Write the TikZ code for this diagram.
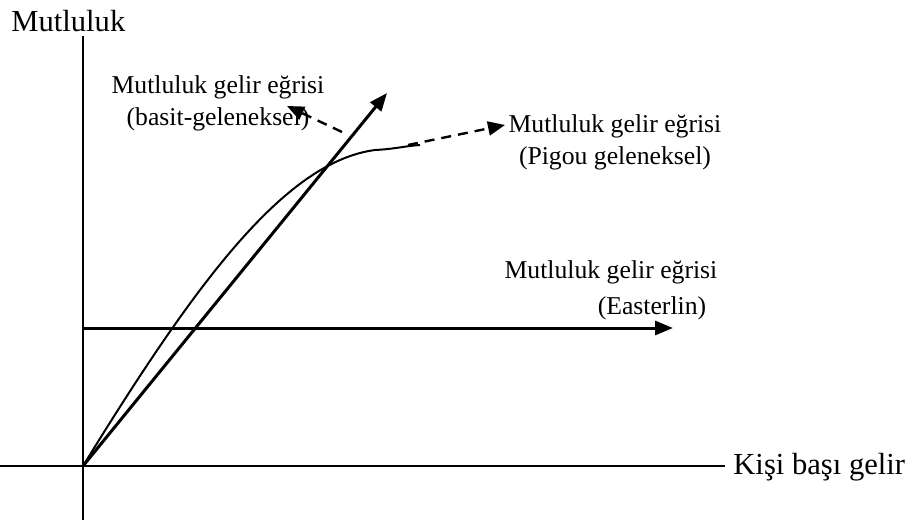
\documentclass[tikz,border=0pt]{standalone}
\usepackage{fontspec}
\setmainfont{Liberation Serif}
\usepackage{tikz}
\usetikzlibrary{arrows.meta, positioning}

\begin{document}
\begin{tikzpicture}[
		x=0.5pt, y=-0.5pt,
		axis/.style={line width=1pt},
		growline/.style={line width=1.5pt, -{Triangle[length=9pt, width=7pt]}},
		pointer/.style={line width=1.2pt, dash pattern=on 5pt off 3.5pt, -{Triangle[length=8.5pt, width=7pt]}},
		lbl/.style={font=\fontsize{12.85}{16}\selectfont, align=center, inner sep=0pt},
		axlbl/.style={font=\fontsize{15.3}{18}\selectfont, inner sep=0pt}
		]
		\useasboundingbox (0,0) rectangle (918,520);
		% axes
		\coordinate (O) at (83,466);
		\coordinate (ytop) at (83,36);
		\coordinate (ybot) at (83,520);
		\coordinate (xl) at (0,466);
		\coordinate (xr) at (725,466);
		\draw[axis] (ybot) -- (ytop);
		\draw[axis] (xl) -- (xr);
		\node[axlbl, anchor=base west] (ylab) at (11,31) {Mutluluk};
		\node[axlbl, anchor=base west] (xlab) at (733,474) {Kişi başı gelir};
		% curves
		\coordinate (simpleEnd) at (387,93);
		\coordinate (eL) at (83,328);
		\coordinate (eR) at (673,328);
		\coordinate (bend) at (375,150);
		\coordinate (pigouEnd) at (420,145);
		\draw[growline] (O) -- (simpleEnd);
		\draw[growline] (eL) -- (eR);
		\draw[line width=1pt] (O) .. controls (196,282) and (285,162) .. (bend)
		.. controls (395,149) and (405,146) .. (pigouEnd);
		% labels
		\node[lbl] (simple) at (218,103) {Mutluluk gelir eğrisi\\(basit-geleneksel)};
		\node[lbl] (pigou) at (615,142) {Mutluluk gelir eğrisi\\(Pigou geleneksel)};
		\node[lbl] (east) at (611,272) {Mutluluk gelir eğrisi};
		\node[lbl] (eastb) at (652,308) {(Easterlin)};
		\coordinate (sp) at (342,132);
		\coordinate (spT) at (287,106);
		\coordinate (pg) at (408,145);
		\coordinate (pgT) at (505,125);
		\draw[pointer] (sp) -- (spT);
		\draw[pointer] (pg) -- (pgT);
	\end{tikzpicture}
\end{document}
